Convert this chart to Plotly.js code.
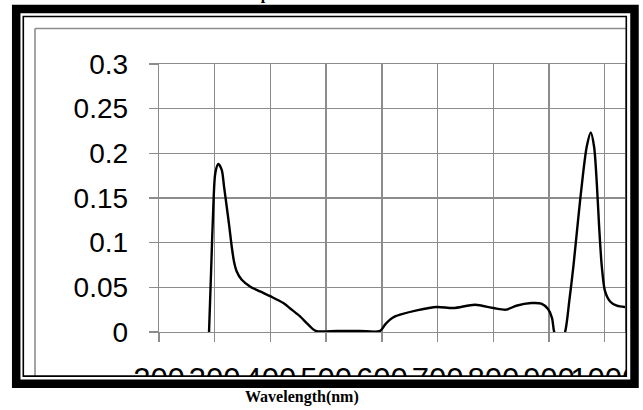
<!DOCTYPE html>
<html>
<head>
<meta charset="utf-8">
<script src="https://cdn.plot.ly/plotly-3.0.1.min.js"></script>
<style>
html,body{margin:0;padding:0;background:#fff;}
#chart{width:643px;height:410px;}
</style>
</head>
<body>
<div id="chart"></div>
<script>
// ---- data ----
const wavelength = [289.8, 293.4, 297.5, 301.1, 306.5, 312.6, 316.7, 321.5, 326.2, 330.5, 334.6, 339.5, 348.5, 363.4, 381.3, 400.5, 423.2, 438.2, 453.1, 468, 481.3, 520, 560, 596.8, 605.7, 614.7, 623.7, 632.7, 662.6, 698.6, 728.4, 767.3, 800.2, 823.3, 841.3, 868.3, 886.3, 898.3, 905.5, 909.1, 918.9, 928.9, 936.7, 943.8, 952.8, 960.6, 967.8, 975, 980.9, 985.8, 990, 994.8, 1000.7, 1009.7, 1021.7, 1036.6];
const absorbance = [0, 0.066, 0.14, 0.178, 0.188, 0.1815, 0.163, 0.1405, 0.118, 0.0958, 0.079, 0.0678, 0.0585, 0.051, 0.0454, 0.0398, 0.0324, 0.025, 0.0175, 0.0082, 0.0012, 0.0012, 0.0012, 0.0012, 0.0082, 0.0138, 0.0175, 0.0194, 0.0242, 0.028, 0.0268, 0.0305, 0.0268, 0.025, 0.0294, 0.0324, 0.0317, 0.0257, 0.0156, 0.0007, -0.015, 0, 0.0361, 0.0734, 0.129, 0.174, 0.2076, 0.2233, 0.2076, 0.1667, 0.118, 0.0734, 0.0454, 0.0342, 0.0294, 0.028];
const xTickVals = [200, 300, 400, 500, 600, 700, 800, 900, 1000];
const xTickText = ['200', '300', '400', '500', '600', '700', '800', '900', '1000'];
const yTickVals = [0, 0.05, 0.1, 0.15, 0.2, 0.25, 0.3];
const yTickText = ['0', '0.05', '0.1', '0.15', '0.2', '0.25', '0.3'];
const xTitle = 'Wavelength(nm)';
const chartTitle = 'Absorptance';

// ---- layout geometry ----
const W = 643, H = 410;
const L = 159, R = 625, T = 64, B = 332.3;
const X = p => (p - L) / (R - L);
const Y = p => (B - p) / (B - T);
const grid = '#8c8c8c';

const shapes = [
  // white covers outside the inner frame
  {type:'rect', xref:'paper', yref:'paper', x0:X(0), x1:X(W), y0:Y(377), y1:Y(H+5), fillcolor:'#fff', line:{width:0}, layer:'above'},
  {type:'rect', xref:'paper', yref:'paper', x0:X(627), x1:X(W+5), y0:Y(0), y1:Y(H), fillcolor:'#fff', line:{width:0}, layer:'above'},
  // grey chart-area border (left and top)
  {type:'line', xref:'paper', yref:'paper', x0:X(35), x1:X(35), y0:Y(28.5), y1:Y(377), line:{color:grid, width:1.6}, layer:'above'},
  {type:'line', xref:'paper', yref:'paper', x0:X(35), x1:X(626), y0:Y(28.5), y1:Y(28.5), line:{color:grid, width:1.6}, layer:'above'},
  // thin black frame
  {type:'rect', xref:'paper', yref:'paper', x0:X(23.3), x1:X(626.3), y0:Y(16.5), y1:Y(376.5), line:{color:'#000', width:1.6}, layer:'above'},
  // thick black frame
  {type:'rect', xref:'paper', yref:'paper', x0:X(16.2), x1:X(634.5), y0:Y(9), y1:Y(384), line:{color:'#000', width:8.5}, layer:'above'}
];

const data = [{
  type:'scatter', mode:'lines',
  x: wavelength, y: absorbance,
  line:{color:'#000', width:2.4, shape:'spline', smoothing:0.8},
  hoverinfo:'skip'
}];

const layout = {
  width:W, height:H,
  margin:{l:L, r:W-R, t:T, b:H-B, pad:0},
  paper_bgcolor:'#fff', plot_bgcolor:'#fff',
  showlegend:false,
  xaxis:{
    range:[200, 200 + (R - L) * 800 / 445.7],
    tickmode:'array', tickvals:xTickVals, ticktext:xTickText,
    tickangle:0,
    showgrid:true, gridcolor:grid, gridwidth:1.3,
    zeroline:false,
    showline:true, linecolor:grid, linewidth:1.3, mirror:true,
    ticks:'outside', ticklen:9, tickcolor:grid, tickwidth:1.3,
    ticklabelstandoff:10,
    tickfont:{family:'Liberation Sans, Arial, sans-serif', size:31, color:'#000'}
  },
  yaxis:{
    range:[0, 0.3],
    tickmode:'array', tickvals:yTickVals, ticktext:yTickText,
    showgrid:true, gridcolor:grid, gridwidth:1.3,
    zeroline:false,
    showline:true, linecolor:grid, linewidth:1.3, mirror:true,
    ticks:'outside', ticklen:9, tickcolor:grid, tickwidth:1.3,
    ticklabelstandoff:15,
    tickfont:{family:'Liberation Sans, Arial, sans-serif', size:28, color:'#000'}
  },
  shapes: shapes,
  annotations:[
    {text:xTitle, xref:'paper', yref:'paper', x:X(302), y:Y(397), xanchor:'center', yanchor:'middle', showarrow:false,
     font:{family:'Liberation Serif, Times New Roman, serif', size:16, weight:'bold', color:'#000'}},
    {text:chartTitle, xref:'paper', yref:'paper', x:X(262), y:Y(5), xanchor:'center', yanchor:'bottom', showarrow:false,
     font:{family:'Liberation Serif, Times New Roman, serif', size:16, weight:'bold', color:'#000'}}
  ]
};

Plotly.newPlot('chart', data, layout, {staticPlot:true, displayModeBar:false});
</script>
</body>
</html>
